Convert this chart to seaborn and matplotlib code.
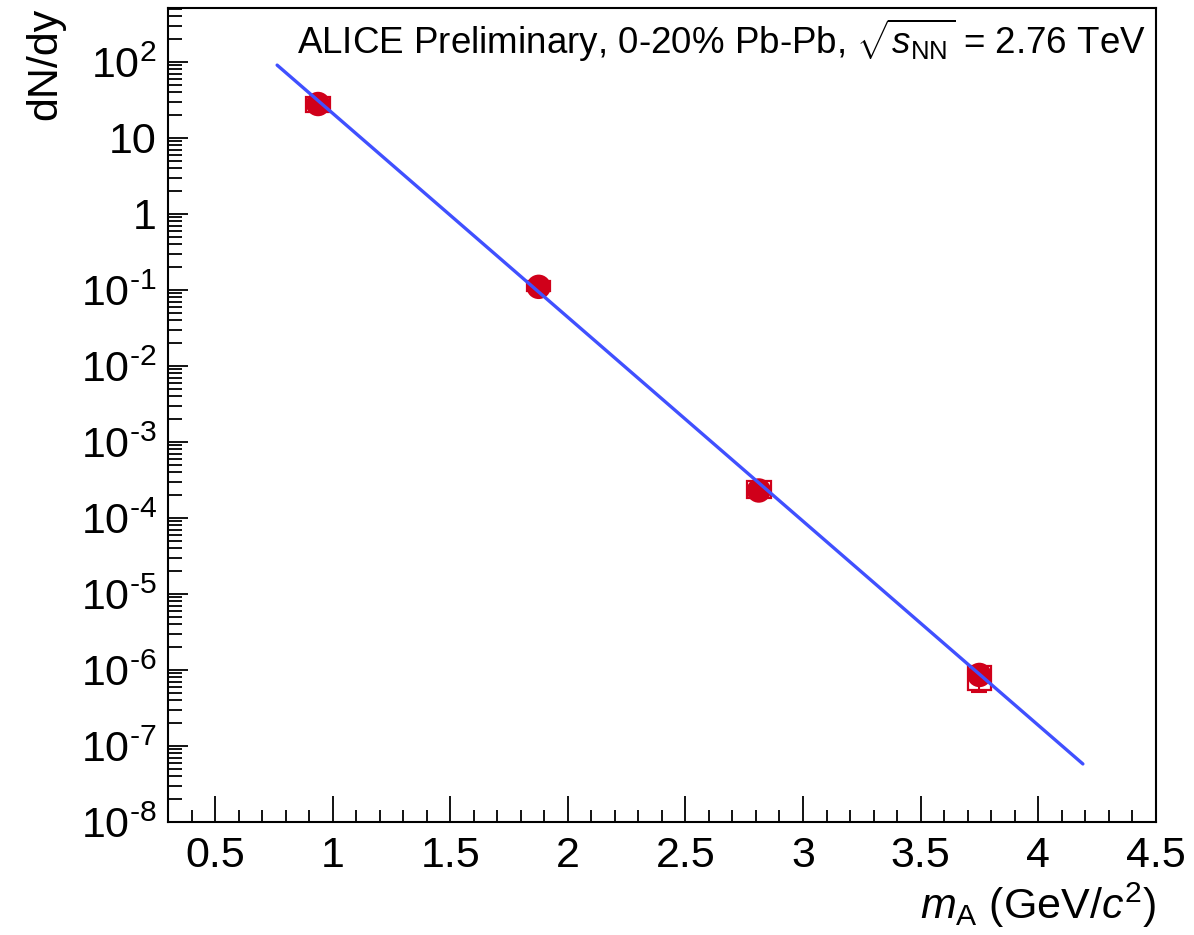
import numpy as np
import pandas as pd
import matplotlib
matplotlib.use("Agg")
import matplotlib.pyplot as plt
import matplotlib.ticker as mticker
import seaborn as sns

# Data
species = ["p", "d", "3He", "4He"]
mass = [0.938, 1.876, 2.812, 3.75]
yield_circle = [28.0, 0.110, 2.3e-4, 8.6e-7]
# systematic boxes (lower / upper edge) and stat. error of 4He
syst_low = [22.0, 0.097, 1.85e-4, 5.5e-7]
syst_high = [35.0, 0.130, 3.1e-4, 1.12e-6]
stat_low = [27.0, 0.108, 2.2e-4, 5.2e-7]
stat_high = [29.0, 0.112, 2.4e-4, 1.0e-6]
box_width = 0.1

# exponential fit, drawn between its two end points
fit_mass = [0.764, 4.19]
fit_yield = [91.0, 5.8e-8]

y_ticks = [1e-8, 1e-7, 1e-6, 1e-5, 1e-4, 1e-3, 1e-2, 1e-1, 1, 10, 100]
x_ticks = [0.5, 1, 1.5, 2, 2.5, 3, 3.5, 4, 4.5]

sns.set_style("white")
plt.rcParams["font.family"] = ["Liberation Sans", "DejaVu Sans"]
plt.rcParams["mathtext.fontset"] = "custom"
plt.rcParams["mathtext.rm"] = "Liberation Sans"
plt.rcParams["mathtext.it"] = "Liberation Sans:italic"
plt.rcParams["mathtext.default"] = "regular"
plt.rcParams["text.color"] = "black"
plt.rcParams["xtick.color"] = "black"
plt.rcParams["ytick.color"] = "black"

red = "#d0001a"
blue = "#4050ff"

df = pd.DataFrame({"species": species, "mass": mass, "circle": yield_circle,
                   "syst_low": syst_low, "syst_high": syst_high,
                   "stat_low": stat_low, "stat_high": stat_high})
fit = pd.DataFrame({"mass": fit_mass, "yield": fit_yield})

fig = plt.figure(figsize=(11.94, 9.35), dpi=100)
ax = fig.add_axes([0.1407, 0.1209, 0.968 - 0.1407, 0.9914 - 0.1209])

# systematic boxes
ax.bar(df["mass"], df["syst_high"] - df["syst_low"], bottom=df["syst_low"],
       width=box_width, fill=False, edgecolor=red, linewidth=1.6, zorder=2)
# statistical errors
ax.errorbar(df["mass"], df["circle"],
            yerr=[df["circle"] - df["stat_low"], df["stat_high"] - df["circle"]],
            fmt="none", ecolor=red, elinewidth=1.5, capsize=6, capthick=1.5, zorder=2)
sns.scatterplot(data=df, x="mass", y="circle", color=red, s=310, edgecolor="none",
                ax=ax, zorder=3)
sns.lineplot(data=fit, x="mass", y="yield", color=blue, linewidth=2.4, ax=ax, zorder=4)

ax.set_yscale("log")
ax.set_xlim(0.3, 4.5)
ax.set_ylim(1e-8, 10 ** 2.71)


def log_fmt(v, pos):
    if v == 1:
        return "1"
    if v == 10:
        return "10"
    e = int(round(np.log10(v)))
    if e < 0:
        return r"$10^{\text{-}%d}$" % (-e)
    return r"$10^{%d}$" % e


ax.yaxis.set_major_locator(mticker.FixedLocator(y_ticks))
ax.yaxis.set_major_formatter(mticker.FuncFormatter(log_fmt))
ax.yaxis.set_minor_locator(mticker.LogLocator(base=10, subs=np.arange(2, 10), numticks=30))
ax.yaxis.set_minor_formatter(mticker.NullFormatter())
ax.xaxis.set_major_locator(mticker.FixedLocator(x_ticks))
ax.xaxis.set_major_formatter(mticker.FuncFormatter(lambda v, p: "%g" % v))
ax.xaxis.set_minor_locator(mticker.MultipleLocator(0.1))

ax.tick_params(axis="both", which="both", direction="in", top=False, right=False,
               left=True, bottom=True, labelsize=31, color="black", width=1.3)
ax.tick_params(axis="y", which="major", length=14.5, pad=8)
ax.tick_params(axis="y", which="minor", length=10)
ax.tick_params(axis="x", which="major", length=19, pad=10)
ax.tick_params(axis="x", which="minor", length=9)

for s in ax.spines.values():
    s.set_color("black")
    s.set_linewidth(1.5)

ax.set_xlabel("")
ax.set_ylabel("")
fig.text(0.968, 0.032, r"$\it{m}_{\rm A}$ (GeV/$\it{c}^{2}$)", ha="right", va="center", fontsize=31)
fig.text(0.038, 0.9914, "dN/dy", rotation=90, ha="center", va="top", fontsize=31)
ax.text(0.99, 0.96, r"ALICE Preliminary, 0-20% Pb-Pb, $\sqrt{\it{s}_{\rm NN}}$ = 2.76 TeV",
        transform=ax.transAxes, ha="right", va="center", fontsize=26.5)

fig.savefig("out.png", dpi=100)
